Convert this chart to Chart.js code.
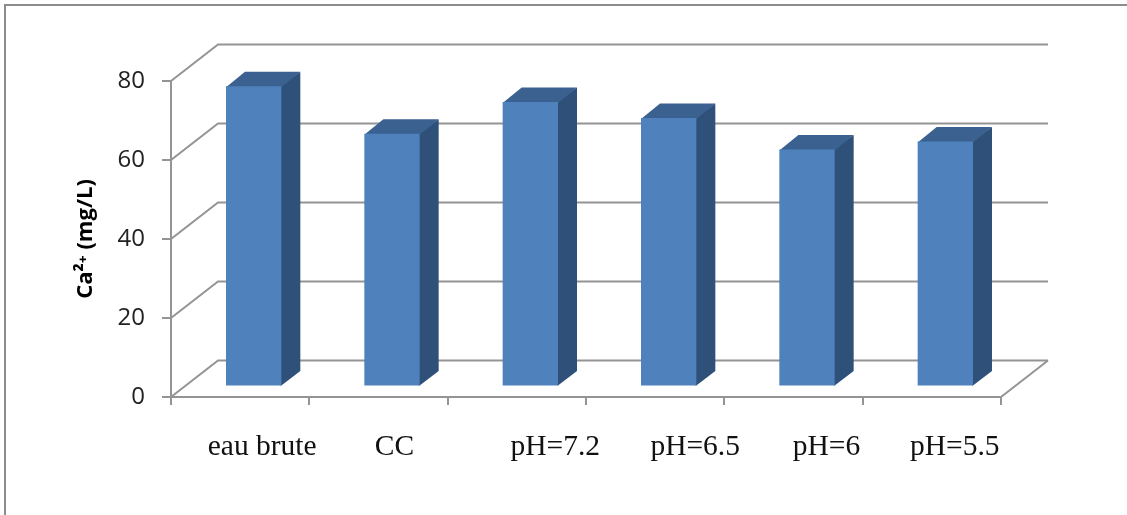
<!DOCTYPE html>
<html>
<head>
<meta charset="utf-8">
<title>Ca2+ (mg/L)</title>
<script src="https://cdn.jsdelivr.net/npm/chart.js"></script>
<style>
  html, body { margin: 0; padding: 0; background: #fff; overflow: hidden; }
  #wrap { position: relative; width: 1127px; height: 515px; }
  /* only the top and left edges of the frame are visible in the picture */
  #frame { position: absolute; left: 4px; top: 4px; width: 1200px; height: 600px; border: 2px solid #8c8c8c; filter: blur(0.4px); }
  /* the reference is a slightly soft bitmap */
  canvas { position: absolute; left: 0; top: 0; filter: blur(0.45px); }
</style>
</head>
<body>
<div id="wrap">
  <div id="frame"></div>
  <canvas id="chart" width="1127" height="515"></canvas>
</div>
<script>
const categories = ['eau brute', 'CC', 'pH=7.2', 'pH=6.5', 'pH=6', 'pH=5.5'];
const calcium = [76, 64, 72, 68, 60, 62];
const yTicks = [0, 20, 40, 60, 80];
// the labels sit unevenly right of their category centre in the original
const labelShift = [22, 16, 38.5, 40, 33, 23];

const LINE = '#949494';
const FRONT = '#4f81bd';
const SIDE = '#2f5179';
const TOP = '#3a6190';
const WALL_DX = 47, WALL_DY = 36.5;   // depth of the back wall
const BAR_DX = 19, BAR_DY = 14.5;     // depth of one bar
const BAR_SHIFT_X = 13.5, BAR_SHIFT_Y = -10.5;  // bars stand inside the floor

// back wall and floor, built from the y scale ticks
const wall = {
  id: 'wall',
  beforeDatasetsDraw(chart) {
    const { ctx, scales: { y }, chartArea: { left, right, bottom } } = chart;
    ctx.save();
    ctx.strokeStyle = LINE;
    ctx.lineWidth = 2;
    yTicks.forEach(t => {
      const py = y.getPixelForValue(t);
      ctx.beginPath();
      ctx.moveTo(left, py);
      ctx.lineTo(left + WALL_DX, py - WALL_DY);
      ctx.lineTo(right + WALL_DX, py - WALL_DY);
      ctx.stroke();
    });
    ctx.beginPath();
    ctx.moveTo(right, bottom);
    ctx.lineTo(right + WALL_DX, bottom - WALL_DY);
    ctx.stroke();
    ctx.restore();
  }
};

// top and side faces around each bar drawn by Chart.js
const bars3d = {
  id: 'bars3d',
  beforeDatasetDraw(chart, args) {
    const ctx = chart.ctx;
    ctx.save();
    ctx.translate(BAR_SHIFT_X, BAR_SHIFT_Y);
    args.meta.data.forEach(bar => {
      const { x, y, base, width } = bar.getProps(['x', 'y', 'base', 'width'], true);
      const r = x + width / 2, l = x - width / 2;
      ctx.fillStyle = SIDE;
      ctx.beginPath();
      ctx.moveTo(r - 1, y);
      ctx.lineTo(r + BAR_DX, y - BAR_DY);
      ctx.lineTo(r + BAR_DX, base - BAR_DY);
      ctx.lineTo(r, base);
      ctx.lineTo(r - 1, base);
      ctx.closePath();
      ctx.fill();
      ctx.fillStyle = TOP;
      ctx.beginPath();
      ctx.moveTo(l, y + 1);
      ctx.lineTo(l + BAR_DX, y - BAR_DY);
      ctx.lineTo(r + BAR_DX, y - BAR_DY);
      ctx.lineTo(r, y + 1);
      ctx.closePath();
      ctx.fill();
    });
  },
  afterDatasetDraw(chart) {
    chart.ctx.restore();
  }
};

// move the x labels to where the original has them
const shiftLabels = {
  id: 'shiftLabels',
  afterLayout(chart) {
    chart.scales.x.getLabelItems().forEach((item, i) => {
      item.options.translation[0] += labelShift[i];
    });
  }
};

new Chart(document.getElementById('chart'), {
  type: 'bar',
  data: {
    labels: categories,
    datasets: [{
      data: calcium,
      backgroundColor: FRONT,
      borderWidth: 0,
      barPercentage: 0.4,
      categoryPercentage: 1,
      clip: false
    }]
  },
  plugins: [wall, bars3d, shiftLabels],
  options: {
    responsive: false,
    animation: false,
    layout: { padding: { top: 81, right: 126, left: 0, bottom: 0 } },
    plugins: { legend: { display: false }, tooltip: { enabled: false } },
    scales: {
      x: {
        afterFit(scale) { scale.height = 118; },
        border: { color: LINE, width: 2 },
        grid: { drawOnChartArea: false, color: LINE, lineWidth: 2, tickLength: 8 },
        ticks: {
          color: '#111',
          maxRotation: 0,
          padding: 25,
          font: { family: '"Liberation Serif"', size: 29.5 }
        }
      },
      y: {
        min: 0,
        max: 80,
        afterFit(scale) { scale.width = 171; },
        afterBuildTicks(scale) { scale.ticks = yTicks.map(value => ({ value })); },
        border: { color: LINE, width: 2 },
        grid: { drawOnChartArea: false, color: LINE, lineWidth: 2, tickLength: 9 },
        ticks: {
          color: '#222',
          padding: 17,
          font: { family: '"Open Sans"', size: 24 }
        },
        title: {
          display: true,
          text: 'Ca²⁺ (mg/L)',
          color: '#000',
          padding: { top: 73, bottom: 0 },
          font: { family: '"Open Sans"', size: 22, weight: 'bold' }
        }
      }
    }
  }
});
</script>
</body>
</html>
